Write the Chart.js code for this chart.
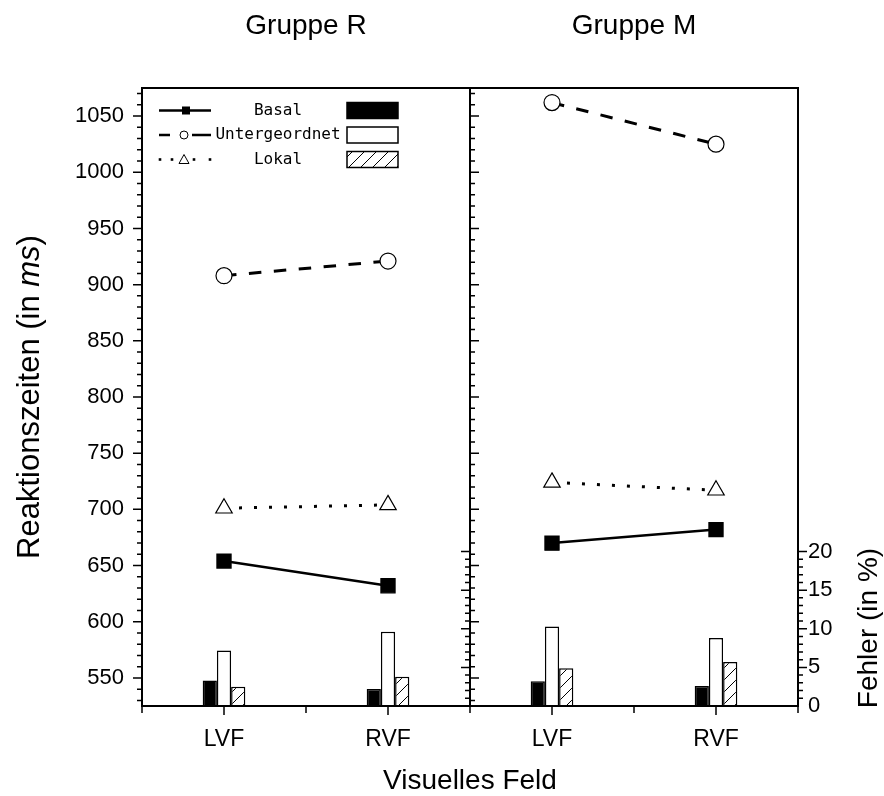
<!DOCTYPE html>
<html>
<head>
<meta charset="utf-8">
<title>Reaktionszeiten und Fehler</title>
<script src="https://cdn.jsdelivr.net/npm/chart.js@4.4.1/dist/chart.umd.min.js"></script>
<style>
  html, body { margin: 0; padding: 0; background: #fff; }
  #chart { display: block; }
</style>
</head>
<body>
<canvas id="chart" width="884" height="796"></canvas>
<script>
// categories: two fields per group, groups side by side
const fields = ['LVF', 'RVF', 'LVF', 'RVF'];
const groups = ['Gruppe R', 'Gruppe M'];
const conditions = ['Basal', 'Untergeordnet', 'Lokal'];

// reaction times in ms, [LVF, RVF]
const basalR = [654, 632];
const basalM = [670, 682];
const untergR = [908, 921];
const untergM = [1062, 1025];
const lokalR = [701, 704];
const lokalM = [724, 717];

// errors in %, [LVF, RVF]
const errBasalR = [3.3, 2.2];
const errBasalM = [3.2, 2.6];
const errUntergR = [7.2, 9.6];
const errUntergM = [10.3, 8.8];
const errLokalR = [2.5, 3.8];
const errLokalM = [4.9, 5.7];

const rtTicks = [550, 600, 650, 700, 750, 800, 850, 900, 950, 1000, 1050];
const errTicks = [0, 5, 10, 15, 20];

const SANS = '"Liberation Sans", Arial, sans-serif';
const TITLE = '28px ' + SANS;
const YTITLE = '31px ' + SANS;
const canvas = document.getElementById('chart');
const ctx0 = canvas.getContext('2d');

function hatchPattern() {
  const c = document.createElement('canvas');
  c.width = 12; c.height = 12;
  const g = c.getContext('2d');
  g.fillStyle = '#fff';
  g.fillRect(0, 0, 12, 12);
  g.strokeStyle = '#000';
  g.lineWidth = 1;
  g.beginPath();
  g.moveTo(0, 12); g.lineTo(12, 0);
  g.moveTo(-3, 3); g.lineTo(3, -3);
  g.moveTo(9, 15); g.lineTo(15, 9);
  g.stroke();
  return ctx0.createPattern(c, 'repeat');
}
const hatch = hatchPattern();

// hide the joining segment between the two groups
const noJoin = { borderColor: c => c.p0DataIndex === 1 ? 'rgba(0,0,0,0)' : '#000' };

function lineSet(label, r, m, style, radius, fill, dash, width) {
  return {
    type: 'line', label, data: [...r, ...m], yAxisID: 'y', order: 0,
    borderColor: '#000', borderWidth: width, borderDash: dash,
    pointStyle: style, pointRadius: radius, pointHoverRadius: radius,
    pointBackgroundColor: fill, pointBorderColor: '#000', pointBorderWidth: 1.2,
    segment: noJoin, fill: false, tension: 0
  };
}

function barSet(label, r, m, bg) {
  return {
    type: 'bar', label, data: [...r, ...m], yAxisID: 'y2', order: 1,
    backgroundColor: bg, borderColor: '#000', borderWidth: 1.5,
    barPercentage: 1, categoryPercentage: 0.26
  };
}

function drawTicks(ctx, scale, values, x, dir, major, minor, isMajor) {
  values.forEach(v => {
    const py = scale.getPixelForValue(v);
    const len = isMajor(v) ? major : minor;
    ctx.moveTo(x, py);
    ctx.lineTo(x + dir * len, py);
  });
}

function range(a, b, s) {
  const out = [];
  for (let v = a; v <= b; v += s) out.push(v);
  return out;
}

const framePlugin = {
  id: 'frame',
  afterDraw(chart) {
    const { ctx, chartArea: a, scales: { y, y2 } } = chart;
    const mid = (a.left + a.right) / 2;
    ctx.save();
    ctx.strokeStyle = '#000';
    ctx.fillStyle = '#000';

    ctx.lineWidth = 2;
    ctx.beginPath();
    ctx.rect(a.left, a.top, a.right - a.left, a.bottom - a.top);
    ctx.moveTo(mid, a.top);
    ctx.lineTo(mid, a.bottom);
    ctx.stroke();

    // tick marks
    ctx.lineWidth = 1.5;
    ctx.beginPath();
    const rtMinor = range(530, 1070, 10);
    const rtMajor = v => v % 50 === 0;
    drawTicks(ctx, y, rtMinor, a.left, -1, 9, 5, rtMajor);
    drawTicks(ctx, y, rtMinor, mid, 1, 9, 5, rtMajor);
    const errMinor = range(1, 20, 1);
    const errMajor = v => v % 5 === 0;
    drawTicks(ctx, y2, errMinor, a.right, 1, 9, 5, errMajor);
    drawTicks(ctx, y2, errMinor, mid, -1, 9, 5, errMajor);
    const step = (a.right - a.left) / 8;
    for (let i = 0; i <= 8; i++) {
      const px = a.left + i * step;
      ctx.moveTo(px, a.bottom);
      ctx.lineTo(px, a.bottom + (i % 2 ? 9 : 7));
    }
    ctx.stroke();

    // group titles
    ctx.font = TITLE;
    ctx.textAlign = 'center';
    ctx.textBaseline = 'middle';
    ctx.fillText(groups[0], (a.left + mid) / 2, 26);
    ctx.fillText(groups[1], (mid + a.right) / 2, 26);

    // x title
    ctx.fillText('Visuelles Feld', 470, 781);

    // y title with italic unit
    ctx.save();
    ctx.translate(30, 397);
    ctx.rotate(-Math.PI / 2);
    const p1 = 'Reaktionszeiten (in ', p2 = 'ms', p3 = ')';
    ctx.font = YTITLE;
    const w1 = ctx.measureText(p1).width, w3 = ctx.measureText(p3).width;
    ctx.font = 'italic ' + YTITLE;
    const w2 = ctx.measureText(p2).width;
    const sx = -(w1 + w2 + w3) / 2;
    ctx.textAlign = 'left';
    ctx.font = YTITLE;
    ctx.fillText(p1, sx, 0);
    ctx.font = 'italic ' + YTITLE;
    ctx.fillText(p2, sx + w1, 0);
    ctx.font = YTITLE;
    ctx.fillText(p3, sx + w1 + w2, 0);
    ctx.restore();

    // right title
    ctx.save();
    ctx.translate(869, 628);
    ctx.rotate(-Math.PI / 2);
    ctx.font = TITLE;
    ctx.textAlign = 'center';
    ctx.fillText('Fehler (in %)', 0, 0);
    ctx.restore();

    drawLegend(ctx);
    ctx.restore();
  }
};

function drawLegend(ctx) {
  const rows = [110.5, 135, 159.5];
  ctx.save();
  ctx.strokeStyle = '#000';
  ctx.fillStyle = '#000';
  // Basal
  ctx.lineWidth = 2.5;
  ctx.beginPath();
  ctx.moveTo(159, rows[0]); ctx.lineTo(211, rows[0]);
  ctx.stroke();
  ctx.fillRect(182, rows[0] - 4, 8, 8);
  // Untergeordnet
  ctx.beginPath();
  ctx.moveTo(159, rows[1]); ctx.lineTo(170, rows[1]);
  ctx.moveTo(192, rows[1]); ctx.lineTo(211, rows[1]);
  ctx.stroke();
  ctx.lineWidth = 1;
  ctx.beginPath();
  ctx.arc(184, rows[1], 4, 0, Math.PI * 2);
  ctx.fillStyle = '#fff';
  ctx.fill();
  ctx.stroke();
  // Lokal
  ctx.fillStyle = '#000';
  [160, 172, 194, 210].forEach(px => ctx.fillRect(px - 1.3, rows[2] - 1.3, 2.6, 2.6));
  ctx.beginPath();
  ctx.moveTo(184, rows[2] - 5);
  ctx.lineTo(189, rows[2] + 4);
  ctx.lineTo(179, rows[2] + 4);
  ctx.closePath();
  ctx.stroke();

  // labels
  ctx.font = '16px "DejaVu Sans Mono", monospace';
  ctx.textAlign = 'center';
  ctx.textBaseline = 'middle';
  conditions.forEach((t, i) => ctx.fillText(t, 278, rows[i]));

  // bar swatches
  ctx.lineWidth = 1.5;
  const fills = ['#000', '#fff', hatch];
  fills.forEach((f, i) => {
    ctx.fillStyle = f;
    ctx.fillRect(347, rows[i] - 8, 51, 16);
    ctx.strokeRect(347, rows[i] - 8, 51, 16);
  });
  ctx.restore();
}

new Chart(canvas, {
  type: 'bar',
  data: {
    labels: fields,
    datasets: [
      lineSet(conditions[0], basalR, basalM, 'rect', 10, '#000', [], 2.5),
      lineSet(conditions[1], untergR, untergM, 'circle', 8, '#fff', [12.5, 12.5], 3),
      lineSet(conditions[2], lokalR, lokalM, 'triangle', 9.5, '#fff', [3, 12], 3),
      barSet(conditions[0], errBasalR, errBasalM, '#000'),
      barSet(conditions[1], errUntergR, errUntergM, '#fff'),
      barSet(conditions[2], errLokalR, errLokalM, hatch)
    ]
  },
  options: {
    responsive: false,
    animation: false,
    devicePixelRatio: 1,
    layout: { padding: { top: 88, left: 0, right: 0, bottom: 0 } },
    plugins: { legend: { display: false }, tooltip: { enabled: false }, title: { display: false } },
    scales: {
      x: {
        type: 'category',
        offset: true,
        grid: { display: false, drawTicks: false },
        border: { display: false },
        ticks: { color: '#000', font: { family: SANS, size: 23 }, padding: 20, maxRotation: 0 },
        afterFit: s => { s.height = 90; }
      },
      y: {
        position: 'left',
        min: 525, max: 1075,
        grid: { display: false, drawTicks: false },
        border: { display: false },
        ticks: { color: '#000', font: { family: SANS, size: 22 }, padding: 18, callback: v => String(v) },
        afterBuildTicks: s => { s.ticks = rtTicks.map(v => ({ value: v })); },
        afterFit: s => { s.width = 142; }
      },
      y2: {
        position: 'right',
        min: 0, max: 80,
        grid: { display: false, drawTicks: false },
        border: { display: false },
        ticks: { color: '#000', font: { family: SANS, size: 22 }, padding: 10, callback: v => String(v) },
        afterBuildTicks: s => { s.ticks = errTicks.map(v => ({ value: v })); },
        afterFit: s => { s.width = 86; }
      }
    }
  },
  plugins: [framePlugin]
});
</script>
</body>
</html>
